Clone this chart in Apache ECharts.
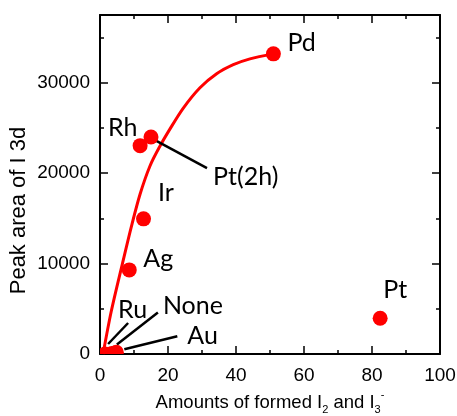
<!DOCTYPE html>
<html><head><meta charset="utf-8">
<script src="https://cdn.jsdelivr.net/npm/echarts@6/dist/echarts.min.js"></script>
<style>html,body{margin:0;padding:0;background:#fff}#c{width:457px;height:416px}</style>
</head><body><div id="c"></div>
<script>
// ---- data ----
const pointNames = ['Pd', 'Pt', 'Pt(2h)', 'Rh', 'Ir', 'Ag', 'Ru', 'None', 'Au'];
const pointX = [51.0, 82.4, 15.0, 11.8, 12.8, 8.6, 1.5, 3.5, 4.8];
const pointY = [33200, 3950, 24000, 23050, 14950, 9300, 0, 50, 200];

const curveX = [0.9, 3.3, 6.6, 9.3, 11.8, 14.7, 17.5, 20.6, 24.5, 29.4, 34.3, 39.2, 44.1, 51.0];
const curveY = [0, 4700, 10000, 14200, 17700, 20800, 22900, 24900, 27200, 29450, 31000, 32000, 32650, 33200];

const xTickValues = [0, 20, 40, 60, 80, 100];
const yTickValues = [0, 10000, 20000, 30000];

// ---- label placement (pixel offsets from the marker) ----
const labelPlacement = {
  'Pd': { dx: 14, dy: -11 },
  'Pt': { dx: 3, dy: -28 },
  'Pt(2h)': { dx: 62, dy: 40, line: [4, 3, 56, 31] },
  'Rh': { dx: -32, dy: -18 },
  'Ir': { dx: 14.5, dy: -26 },
  'Ag': { dx: 14, dy: -11 },
  'Ru': { dx: 13, dy: -44, line: [3, -10, 23, -31] },
  'None': { dx: 51, dy: -48, line: [5, -9, 46, -41] },
  'Au': { dx: 71, dy: -16, line: [8, -3, 61, -16] }
};

const pointData = pointX.map((x, i) => [x, pointY[i], pointNames[i]]);
const curveData = curveX.map((x, i) => [x, curveY[i]]);

const axisFont = 'Liberation Sans, Arial, sans-serif';
const labelFont = 'Lato, "Open Sans", sans-serif';
const black = '#000';

function xAx(pos, showLabel) {
  return {
    type: 'value', min: xTickValues[0], max: xTickValues[xTickValues.length - 1],
    interval: xTickValues[1] - xTickValues[0], position: pos,
    axisLine: { show: true, onZero: false, lineStyle: { color: black, width: 2 } },
    axisTick: { show: true, inside: true, length: 8, lineStyle: { color: black, width: 1.5 } },
    minorTick: { show: true, splitNumber: 2, length: 4, lineStyle: { color: black, width: 1.5 } },
    splitLine: { show: false }, minorSplitLine: { show: false },
    axisLabel: { show: showLabel, color: black, fontSize: 19, fontFamily: axisFont, margin: 12,
      formatter: v => String(v) }
  };
}
function yAx(pos, interval, tickLen, showLine, showLabel) {
  return {
    type: 'value', min: 0, max: 37500, interval: interval, position: pos,
    axisLine: { show: showLine, onZero: false, lineStyle: { color: black, width: 2 } },
    axisTick: { show: true, inside: true, length: tickLen, lineStyle: { color: black, width: 1.5 } },
    splitLine: { show: false },
    axisLabel: { show: showLabel, color: black, fontSize: 19, fontFamily: axisFont, margin: 10, showMaxLabel: false,
      formatter: v => (yTickValues.indexOf(v) >= 0 ? String(v) : '') }
  };
}

const xMain = xAx('bottom', true);
xMain.name = 'Amounts of formed I{sub|2} and I{sub|3}{sup|-}';
xMain.nameLocation = 'middle';
xMain.nameGap = 45;
xMain.nameTextStyle = {
  color: black, fontSize: 18.5, fontFamily: axisFont, lineHeight: 26, verticalAlign: 'middle',
  rich: {
    sub: { fontSize: 11, fontFamily: axisFont, color: black, verticalAlign: 'bottom', lineHeight: 26 },
    sup: { fontSize: 11, fontFamily: axisFont, color: black, verticalAlign: 'top', lineHeight: 26 }
  }
};
const yMain = yAx('left', 10000, 8, true, true);
yMain.name = 'Peak area of I 3d';
yMain.nameLocation = 'middle';
yMain.nameGap = 70;
yMain.nameMoveOverlap = false;
yMain.nameTextStyle = { color: black, fontSize: 22, fontFamily: axisFont, padding: [0, 52, 0, 0] };

const option = {
  backgroundColor: '#fff',
  animation: false,
  grid: { left: 100, right: 17, top: 15, bottom: 62, outerBoundsMode: 'none', containLabel: false },
  xAxis: [xMain, xAx('top', false)],
  yAxis: [
    yMain,
    yAx('left', 5000, 4, false, false),
    yAx('right', 10000, 8, true, false),
    yAx('right', 5000, 4, false, false)
  ],
  series: [
    {
      type: 'line', data: curveData, xAxisIndex: 0, yAxisIndex: 0,
      smooth: 0.3, showSymbol: false, clip: true, z: 2,
      lineStyle: { color: '#ff0000', width: 3 }
    },
    {
      type: 'custom', data: pointData, xAxisIndex: 0, yAxisIndex: 0, clip: false, z: 3,
      encode: { x: 0, y: 1 },
      renderItem: function (params, api) {
        const name = pointNames[params.dataIndex];
        const p = api.coord([api.value(0), api.value(1)]);
        const lp = labelPlacement[name];
        const children = [];
        if (lp.line) {
          children.push({ type: 'line', shape: { x1: p[0] + lp.line[0], y1: p[1] + lp.line[1], x2: p[0] + lp.line[2], y2: p[1] + lp.line[3] },
            style: { stroke: black, lineWidth: 2.5 } });
        }
        children.push({ type: 'text', x: p[0] + lp.dx, y: p[1] + lp.dy,
          style: { text: name, fill: black, fontSize: 25, fontFamily: labelFont, align: 'left', verticalAlign: 'middle' } });
        return { type: 'group', children: children };
      }
    },
    {
      type: 'custom', data: pointData, xAxisIndex: 0, yAxisIndex: 0, clip: true, z: 4,
      encode: { x: 0, y: 1 },
      renderItem: function (params, api) {
        const p = api.coord([api.value(0), api.value(1)]);
        return { type: 'circle', shape: { cx: p[0], cy: p[1], r: 7.5 }, style: { fill: '#ff0000' } };
      }
    }
  ]
};
const chart = echarts.init(document.getElementById('c'), null, { renderer: 'canvas' });
chart.setOption(option);
</script></body></html>
